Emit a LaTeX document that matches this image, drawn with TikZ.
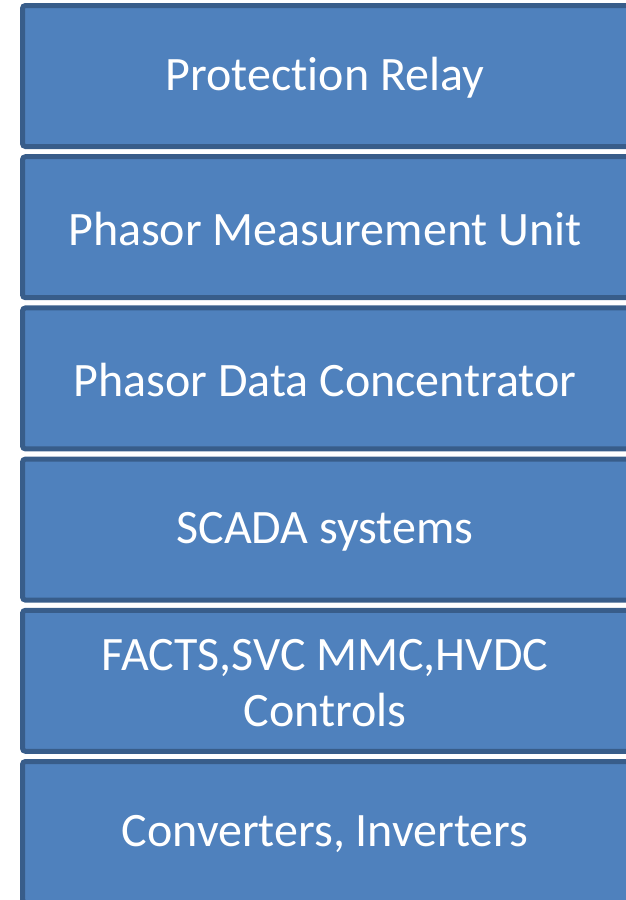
\documentclass[tikz,border=0pt]{standalone}
\usepackage{fontspec}
\setmainfont{Carlito}[Ligatures={NoCommon}]
\definecolor{boxfill}{HTML}{4F81BD}
\definecolor{boxline}{HTML}{385D8A}
\begin{document}
\begin{tikzpicture}[x=1pt,y=-1pt,
  layer/.style={draw=boxline,fill=boxfill,line width=5pt,rounded corners=3pt},
  lbl/.style={text=white,font=\fontsize{48}{56}\selectfont,align=center}]
\useasboundingbox (0,0) rectangle (625,900);
\foreach \i/\t in {0/{Protection Relay},1/{Phasor Measurement Unit},2/{Phasor Data Concentrator},3/{SCADA systems},4/{FACTS,SVC MMC,HVDC\\Controls},5/{Converters, Inverters}}{
  \pgfmathsetmacro{\top}{3+151.2*\i}
  \draw[layer] (22.5,\top+2.5) rectangle (632,\top+143.5);
  \node[lbl] (n\i) at (325,\top+75) {\t};
}
\end{tikzpicture}
\end{document}
